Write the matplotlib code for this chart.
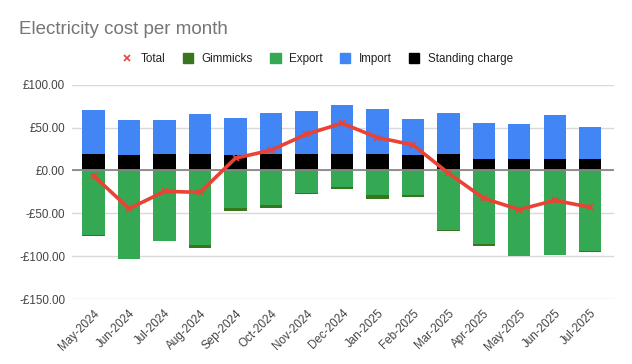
import matplotlib
matplotlib.use("Agg")
import matplotlib.pyplot as plt
from matplotlib.lines import Line2D
from matplotlib.patches import Patch
import numpy as np

plt.rcParams['font.family'] = ['Liberation Sans', 'DejaVu Sans']

#%% data
months = ["May-2024", "Jun-2024", "Jul-2024", "Aug-2024", "Sep-2024", "Oct-2024",
          "Nov-2024", "Dec-2024", "Jan-2025", "Feb-2025", "Mar-2025", "Apr-2025",
          "May-2025", "Jun-2025", "Jul-2025"]
standing = [19.4, 17.8, 19.4, 19.4, 17.8, 19.4, 19.4, 19.4, 19.4, 17.8, 19.4, 13.6, 13.6, 13.6, 13.6]
imports = [51.1, 40.7, 39.1, 46.1, 43.8, 48.0, 50.0, 57.0, 52.3, 41.9, 48.0, 41.8, 40.7, 50.7, 37.2]
export = [-75.0, -103.1, -82.0, -86.8, -44.2, -40.3, -26.4, -19.4, -28.3, -29.1, -69.4, -86.0, -100.0, -98.8, -93.8]
gimmicks = [-1.0, 0.0, -0.3, -3.9, -3.1, -3.1, -1.5, -1.9, -5.0, -1.5, -1.1, -2.0, 0.0, -0.3, -0.8]
total = [-6.2, -44.6, -24.4, -25.6, 14.3, 23.6, 42.2, 55.0, 38.4, 29.8, -3.1, -32.6, -45.7, -34.9, -43.0]
yticks = [-150, -100, -50, 0, 50, 100]

c_total = '#ea4335'
c_gimm = '#38761d'
c_export = '#34a853'
c_import = '#4285f4'
c_stand = '#000000'

#%% plot
fig = plt.figure(figsize=(6.32, 3.64), dpi=100)
ax = fig.add_axes([72/632, 1-299/364, 542/632, (299-84.7)/364])

x = np.arange(len(months))
w = 0.63
ax.bar(x, standing, w, color=c_stand, zorder=2)
ax.bar(x, imports, w, bottom=standing, color=c_import, zorder=2)
ax.bar(x, export, w, color=c_export, zorder=2)
ax.bar(x, gimmicks, w, bottom=export, color=c_gimm, zorder=2)
ax.plot(x, total, color=c_total, lw=2.6, marker='x', ms=5, mew=1.2, zorder=4)

ax.set_ylim(-150, 100)
ax.set_yticks(yticks)
ax.set_yticklabels([f"-£{abs(v):.2f}" if v < 0 else f"£{v:.2f}" for v in yticks])
ax.set_xlim(-0.61, 14.67)
ax.set_xticks(x)
ax.set_xticklabels(months, rotation=45, ha='right', va='top', rotation_mode='anchor')
ax.tick_params(length=0, labelsize=8.4, colors='#444444', pad=5)
ax.tick_params(axis='x', pad=6)
for s in ax.spines.values():
    s.set_visible(False)
ax.grid(axis='y', color='#d9d9d9', lw=1, zorder=0)
ax.axhline(0, color='#888888', lw=1.3, zorder=3)

fig.text(19/632, 1-29.7/364, "Electricity cost per month", fontsize=13.5,
         color='#757575', va='center', ha='left')

handles = [Line2D([], [], color=c_total, marker='x', ls='none', ms=5, mew=1.2),
           Patch(color=c_gimm), Patch(color=c_export), Patch(color=c_import), Patch(color=c_stand)]
labels = ["Total", "Gimmicks", "Export", "Import", "Standing charge"]
fig.legend(handles, labels, ncol=5, frameon=False, loc='center',
           bbox_to_anchor=(0.502, 1-59.3/364), fontsize=8.4, handlelength=0.9,
           handleheight=0.9, handletextpad=0.7, columnspacing=1.5, labelcolor='#222222')

fig.savefig("out.png", dpi=100)
